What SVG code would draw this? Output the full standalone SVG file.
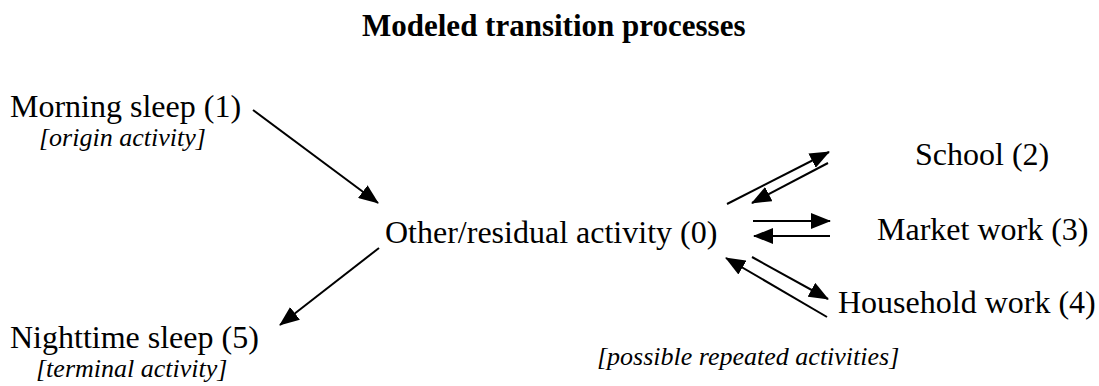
<svg xmlns="http://www.w3.org/2000/svg" width="1099" height="386" viewBox="0 0 1099 386">
<style>
.t{font-family:"Liberation Serif","Times New Roman",serif;font-size:32px;fill:#000}
.i{font-family:"Liberation Serif","Times New Roman",serif;font-size:26px;font-style:italic;fill:#000}
.h{font-family:"Liberation Serif","Times New Roman",serif;font-size:31px;font-weight:bold;fill:#000}
.c{stroke:#000;stroke-width:2;fill:none;marker-end:url(#ah)}
</style>
<defs>
<marker id="ah" markerUnits="userSpaceOnUse" markerWidth="20" markerHeight="16" viewBox="0 0 20 16" refX="19" refY="8" orient="auto">
<path d="M0,0 L20,8 L0,16 Z" fill="#000"/>
</marker>
</defs>
<rect width="1099" height="386" fill="#fff"/>
<text class="h" x="362" y="36">Modeled transition processes</text>
<g id="n1"><text class="t" x="10" y="117">Morning sleep (1)</text><text class="i" x="39" y="146">[origin activity]</text></g>
<g id="n0"><text class="t" x="385" y="243">Other/residual activity (0)</text></g>
<g id="n5"><text class="t" x="10" y="348">Nighttime sleep (5)</text><text class="i" x="36" y="377">[terminal activity]</text></g>
<g id="n2"><text class="t" x="915" y="165">School (2)</text></g>
<g id="n3"><text class="t" x="877" y="240">Market work (3)</text></g>
<g id="n4"><text class="t" x="838" y="313">Household work (4)</text></g>
<g id="note"><text class="i" x="597" y="365">[possible repeated activities]</text></g>
<g id="connectors">
<line class="c" x1="253" y1="110" x2="378" y2="203"/>
<line class="c" x1="379" y1="248" x2="280" y2="325"/>
<line class="c" x1="727" y1="204" x2="829" y2="152"/>
<line class="c" x1="828" y1="163" x2="752" y2="203"/>
<line class="c" x1="753" y1="221" x2="830" y2="221"/>
<line class="c" x1="830" y1="236" x2="754" y2="236"/>
<line class="c" x1="752" y1="257" x2="828" y2="299"/>
<line class="c" x1="827" y1="317" x2="726" y2="258"/>
</g>
</svg>
